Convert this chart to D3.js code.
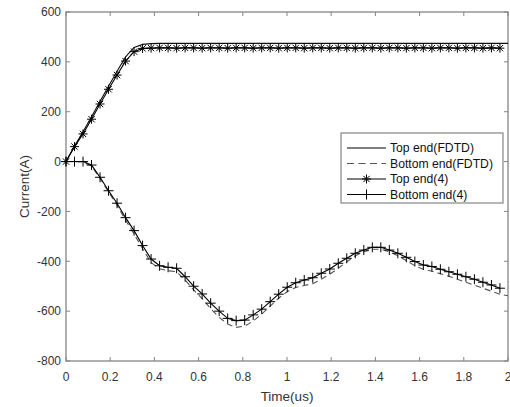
<!DOCTYPE html>
<html><head><meta charset="utf-8">
<script src="https://cdn.jsdelivr.net/npm/d3@7"></script>
<style>body{margin:0;background:#fff}svg{display:block}text{font-family:"Liberation Sans",Arial,sans-serif}</style>
</head><body><svg id="c" width="510" height="407"></svg>
<script>
// time step of sampled curves (us)
const dt = 0.0385;
// Model (4) series, sampled every dt starting at 0
const topEnd4 = [0,60,111,170,231,290,347,403,441,454,455,456,456,455,456,456,455,456,456,455,456,456,455,456,456,455,456,456,455,456,456,455,456,456,455,456,456,455,456,456,455,456,456,455,456,456,455,456,456,455,456,455];
const bottomEnd4 = [0,0,0,-14,-63,-117,-167,-225,-277,-337,-391,-418,-424,-428,-462,-500,-531,-568,-600,-629,-638,-636,-615,-592,-562,-532,-504,-486,-475,-466,-448,-431,-408,-388,-368,-355,-344,-344,-355,-368,-384,-401,-415,-421,-432,-442,-452,-462,-472,-484,-495,-508];
// FDTD series (same step, last value at t = 2)
const topFDTD = [0,62,120,180,242,302,362,420,458,470,473,474,474,474,474,474,474,474,474,474,474,474,474,474,474,474,474,474,474,474,474,474,474,474,474,474,474,474,474,474,474,474,474,474,474,474,474,474,474,474,474,474,474];
const bottomFDTD = [0,0,-2,-18,-68,-122,-175,-235,-290,-350,-405,-430,-438,-442,-475,-515,-550,-590,-625,-652,-665,-660,-640,-612,-580,-548,-522,-505,-497,-490,-472,-452,-428,-402,-378,-362,-352,-352,-362,-378,-397,-418,-432,-440,-450,-460,-472,-484,-496,-508,-520,-532,-538];
const xTicks = [0,0.2,0.4,0.6,0.8,1,1.2,1.4,1.6,1.8,2];
const yTicks = [-800,-600,-400,-200,0,200,400,600];
const legendLabels = ["Top end(FDTD)","Bottom end(FDTD)","Top end(4)","Bottom end(4)"];
const xLabel = "Time(us)", yLabel = "Current(A)";

const svg = d3.select("#c");
const L=66,R=508,T=12,B=361;
const x = d3.scaleLinear().domain([0,2]).range([L,R]);
const y = d3.scaleLinear().domain([-800,600]).range([B,T]);
const ptsFDTD = a => a.map((v,i)=>[i===a.length-1?2:i*dt, v]);
const pts4 = a => a.map((v,i)=>[i*dt, v]);
const line = d3.line().x(d=>x(d[0])).y(d=>y(d[1]));

const axisCol="#858585", txtCol="#333";
const g = svg.append("g");
g.append("rect").attr("x",L).attr("y",T).attr("width",R-L).attr("height",B-T).attr("fill","none").attr("stroke",axisCol).attr("stroke-width",1.3);
const ax = g.append("g");
xTicks.forEach(t=>{
  ax.append("line").attr("x1",x(t)).attr("x2",x(t)).attr("y1",B).attr("y2",B-4).attr("stroke",axisCol);
  ax.append("line").attr("x1",x(t)).attr("x2",x(t)).attr("y1",T).attr("y2",T+4).attr("stroke",axisCol);
  ax.append("text").attr("x",x(t)).attr("y",B+19.5).attr("text-anchor","middle").attr("font-size",12).attr("fill",txtCol).text(d3.format("")(t));
});
yTicks.forEach(t=>{
  ax.append("line").attr("x1",L).attr("x2",L+4).attr("y1",y(t)).attr("y2",y(t)).attr("stroke",axisCol);
  ax.append("line").attr("x1",R).attr("x2",R-4).attr("y1",y(t)).attr("y2",y(t)).attr("stroke",axisCol);
  ax.append("text").attr("x",L-5).attr("y",y(t)+4.3).attr("text-anchor","end").attr("font-size",12).attr("fill",txtCol).text(t);
});
svg.append("text").attr("x",(L+R)/2).attr("y",401).attr("text-anchor","middle").attr("font-size",13.5).attr("fill",txtCol).text(xLabel);
svg.append("text").attr("transform",`translate(29,${(T+B)/2}) rotate(-90)`).attr("text-anchor","middle").attr("font-size",13.5).attr("fill",txtCol).text(yLabel);

const plot = svg.append("g");
plot.append("path").attr("d",line(ptsFDTD(topFDTD))).attr("fill","none").attr("stroke","#111").attr("stroke-width",1.1);
plot.append("path").attr("d",line(ptsFDTD(bottomFDTD))).attr("fill","none").attr("stroke","#555").attr("stroke-width",1.1).attr("stroke-dasharray","6,4");
plot.append("path").attr("d",line(pts4(topEnd4))).attr("fill","none").attr("stroke","#000").attr("stroke-width",1.1);
plot.append("path").attr("d",line(pts4(bottomEnd4))).attr("fill","none").attr("stroke","#000").attr("stroke-width",1.1);

function star(gg,cx,cy,s){
  const r=s/2;
  [[0,-r,0,r],[-r,0,r,0],[-r*0.7,-r*0.7,r*0.7,r*0.7],[-r*0.7,r*0.7,r*0.7,-r*0.7]].forEach(a=>
    gg.append("line").attr("x1",cx+a[0]).attr("y1",cy+a[1]).attr("x2",cx+a[2]).attr("y2",cy+a[3]).attr("stroke","#000").attr("stroke-width",1));
}
function plus(gg,cx,cy,s){
  const r=s/2;
  [[0,-r,0,r],[-r,0,r,0]].forEach(a=>
    gg.append("line").attr("x1",cx+a[0]).attr("y1",cy+a[1]).attr("x2",cx+a[2]).attr("y2",cy+a[3]).attr("stroke","#000").attr("stroke-width",1));
}
pts4(topEnd4).forEach(d=>star(plot,x(d[0]),y(d[1]),9));
pts4(bottomEnd4).forEach(d=>plus(plot,x(d[0]),y(d[1]),10));

const lg = svg.append("g");
lg.append("rect").attr("x",341).attr("y",133).attr("width",162).attr("height",70).attr("fill","#fff").attr("stroke",axisCol).attr("stroke-width",1.2);
const rows=[148,163.5,179,194.5];
legendLabels.forEach((lab,i)=>{
  const ry=rows[i];
  const ln=lg.append("line").attr("x1",347).attr("x2",386).attr("y1",ry).attr("y2",ry).attr("stroke",i===1?"#555":"#000").attr("stroke-width",1);
  if(i===1) ln.attr("stroke-dasharray","7,4.5");
  if(i===2) star(lg,366.5,ry,9);
  if(i===3) plus(lg,366.5,ry,10);
  lg.append("text").attr("x",390).attr("y",ry+4.3).attr("font-size",12.2).attr("fill","#111").text(lab);
});
</script></body></html>
